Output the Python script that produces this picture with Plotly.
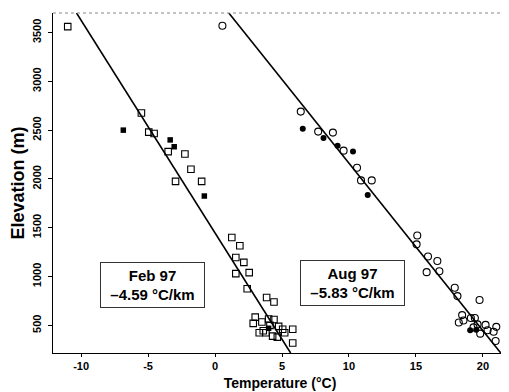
import plotly.graph_objects as go

# ---- data ----
feb_temp = [-11.0, -5.5, -4.95, -4.55, -3.5, -2.25, -1.8, -2.95, -1.0,
            1.25, 1.85, 1.55, 2.15, 1.55, 2.55, 2.4, 3.85, 4.4,
            3.0, 2.85, 3.5, 4.0, 4.4, 4.1, 4.75, 5.05, 3.6, 3.3, 3.8, 5.2,
            4.3, 4.65, 5.8, 5.8]
feb_elev = [3560, 2675, 2480, 2465, 2280, 2255, 2100, 1975, 1975,
            1400, 1315, 1195, 1145, 1030, 1040, 875, 785, 740,
            585, 520, 535, 565, 560, 500, 490, 460, 445, 425, 425, 425,
            390, 380, 460, 320]
feb_fill_temp = [-6.85, -3.35, -3.05, -0.8, 4.0]
feb_fill_elev = [2500, 2400, 2330, 1825, 470]

aug_temp = [0.55, 6.4, 7.7, 8.8, 9.6, 10.6, 10.9, 11.7,
            15.1, 15.05, 15.9, 16.6, 15.8, 16.75, 17.9, 18.1, 19.75,
            18.45, 18.55, 18.2, 19.1, 19.4, 19.6, 19.3, 19.8, 20.2, 20.35,
            21.0, 20.8, 20.95]
aug_elev = [3570, 2690, 2485, 2475, 2290, 2115, 1985, 1985,
            1420, 1330, 1205, 1160, 1045, 1055, 885, 800, 760,
            605, 550, 530, 575, 575, 510, 480, 415, 505, 450,
            485, 435, 340]
aug_fill_temp = [6.55, 8.1, 9.15, 10.3, 11.4, 19.05, 19.5]
aug_fill_elev = [2515, 2420, 2340, 2280, 1835, 450, 455]

# regression lines: T = intercept + slope * E/1000
feb_slope, feb_intercept = -4.59, 6.64
aug_slope, aug_intercept = -5.83, 22.6

x_range = [-12.1, 21.8]
y_range = [217, 3700]
x_ticks = [-10, -5, 0, 5, 10, 15, 20]
x_ticklabels = ["-10", "-5", "0", "5", "10", "15", "20"]
y_ticks = [500, 1000, 1500, 2000, 2500, 3000, 3500]

FONT = "Liberation Sans"

fig = go.Figure()

def reg_line(slope, intercept):
    e = [y_range[0], y_range[1]]
    t = [intercept + slope * v / 1000 for v in e]
    return t, e

for s, i in [(feb_slope, feb_intercept), (aug_slope, aug_intercept)]:
    t, e = reg_line(s, i)
    fig.add_trace(go.Scatter(x=t, y=e, mode="lines",
                             line=dict(color="black", width=1.6),
                             hoverinfo="skip", cliponaxis=True))

fig.add_trace(go.Scatter(x=feb_temp, y=feb_elev, mode="markers",
                         marker=dict(symbol="square-open", size=6.5, color="black",
                                     line=dict(width=1.1, color="black"))))
fig.add_trace(go.Scatter(x=feb_fill_temp, y=feb_fill_elev, mode="markers",
                         marker=dict(symbol="square", size=5.5, color="black")))
fig.add_trace(go.Scatter(x=aug_temp, y=aug_elev, mode="markers",
                         marker=dict(symbol="circle-open", size=7, color="black",
                                     line=dict(width=1.1, color="black"))))
fig.add_trace(go.Scatter(x=aug_fill_temp, y=aug_fill_elev, mode="markers",
                         marker=dict(symbol="circle", size=6, color="black")))

# dotted top border
fig.add_shape(type="line", xref="paper", yref="paper", x0=0, x1=1, y0=1, y1=1,
              line=dict(color="#888888", width=1, dash="dot"))

box = dict(showarrow=False, xref="x", yref="y",
           font=dict(family=FONT, size=15, color="black", weight="bold"),
           bordercolor="#333333", borderwidth=1, bgcolor="white",
           width=101, height=42, align="center")
fig.add_annotation(x=-4.7, y=915, text="Feb 97<br>–4.59 °C/km", **box)
fig.add_annotation(x=10.3, y=935, text="Aug 97<br>–5.83 °C/km", **box)

# page body has an 8px default margin, so the figure is offset by 8px
fig.update_layout(
    width=501, height=384,
    margin=dict(l=45, r=2, t=5, b=39),
    paper_bgcolor="white", plot_bgcolor="white",
    showlegend=False,
    font=dict(family=FONT, color="black"),
)
fig.update_xaxes(range=x_range, tickvals=x_ticks, ticktext=x_ticklabels,
                 automargin=False,
                 showgrid=False, zeroline=False, showline=True,
                 linecolor="black", linewidth=1.2,
                 ticks="outside", ticklen=3, tickcolor="black",
                 tickfont=dict(family=FONT, size=11, weight="bold"),
                 title=dict(text="Temperature (°C)", standoff=6,
                            font=dict(family=FONT, size=14, weight="bold")))
fig.update_yaxes(range=y_range, tickvals=y_ticks, automargin=False,
                 showgrid=False, zeroline=False, showline=True,
                 linecolor="black", linewidth=1.2,
                 ticks="outside", ticklen=4, tickcolor="black", tickangle=-90,
                 ticklabelstandoff=3,
                 tickfont=dict(family=FONT, size=11, weight="bold"),
                 title=dict(text="Elevation (m)", standoff=2,
                            font=dict(family=FONT, size=18, weight="bold")))

fig.write_html("out.html")
